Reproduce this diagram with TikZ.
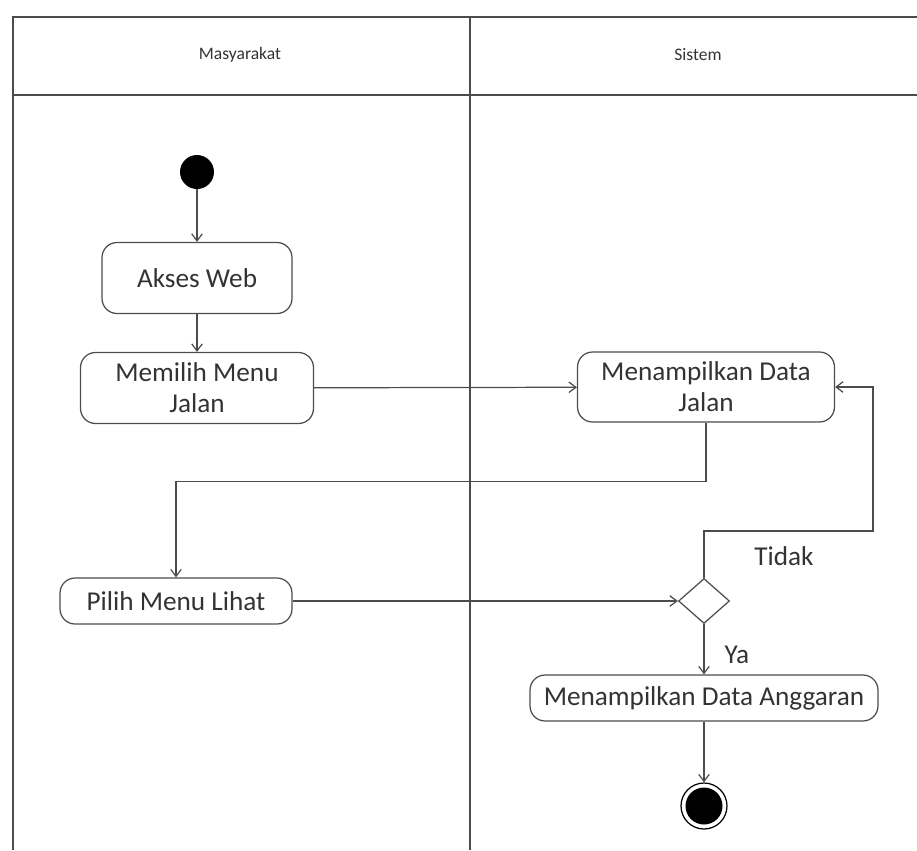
\documentclass[tikz,border=0pt]{standalone}
\usepackage{fontspec}
\setmainfont{Carlito}
\usetikzlibrary{shapes.geometric,arrows.meta}

\begin{document}
\begin{tikzpicture}[x=0.02cm,y=-0.02cm,
  act/.style={draw=gray!60!black,line width=0.7pt,rounded corners=0.3cm,align=center,
    text=black!80,font=\fontsize{15.5}{17.5}\selectfont,inner sep=2pt},
  line/.style={draw=gray!60!black,line width=0.7pt},
  >={Straight Barb[length=4pt,width=6pt]}]
\useasboundingbox (0,0) rectangle (917,850);

% swimlanes
\draw[line] (917,17) -- (13,17) -- (13,850);
\draw[line] (13,95) -- (917,95);
\draw[line] (470,17) -- (470,850);
\node[text=black!80,font=\fontsize{10}{12}\selectfont] (masy) at (240,55) {Masyarakat};
\node[text=black!80,font=\fontsize{10}{12}\selectfont] (sist) at (698,55) {Sistem};

\node[circle,fill=black,minimum size=0.68cm,inner sep=0] (start) at (197,172) {};
\node[act,minimum width=3.8cm,minimum height=1.42cm] (akses) at (197,278) {Akses Web};
\node[act,minimum width=4.66cm,minimum height=1.42cm] (memilih) at (197,388) {Memilih Menu\\Jalan};
\node[act,minimum width=5.14cm,minimum height=1.4cm] (tampil) at (706,387) {Menampilkan Data\\Jalan};
\node[act,minimum width=4.64cm,minimum height=0.92cm] (pilih) at (176,601) {Pilih Menu Lihat};
\node[diamond,draw=gray!60!black,line width=0.7pt,minimum width=1.02cm,minimum height=0.9cm,inner sep=0] (dec) at (704,601) {};
\node[act,minimum width=6.96cm,minimum height=0.92cm] (anggaran) at (704,698) {Menampilkan Data Anggaran};
\node[circle,draw=black,line width=0.7pt,minimum size=0.92cm,inner sep=0] (end) at (704,806) {};
\fill (end) circle (0.37cm);

\draw[line,->] (start) -- (akses);
\draw[line,->] (akses) -- (memilih);
\draw[line,->] (memilih) -- (tampil);
\draw[line,->] (tampil.south) -- ++(0,59) -| (pilih.north);
\draw[line,->] (pilih) -- (dec);
\draw[line,->] (dec.north) |- (873,531) |- (tampil.east);
\draw[line,->] (dec) -- (anggaran);
\draw[line,->] (anggaran) -- (end);

\node[text=black!80,font=\fontsize{15.5}{17.5}\selectfont] (tidak) at (784,556) {Tidak};
\node[text=black!80,font=\fontsize{15.5}{17.5}\selectfont] (ya) at (737,655) {Ya};

\end{tikzpicture}
\end{document}
